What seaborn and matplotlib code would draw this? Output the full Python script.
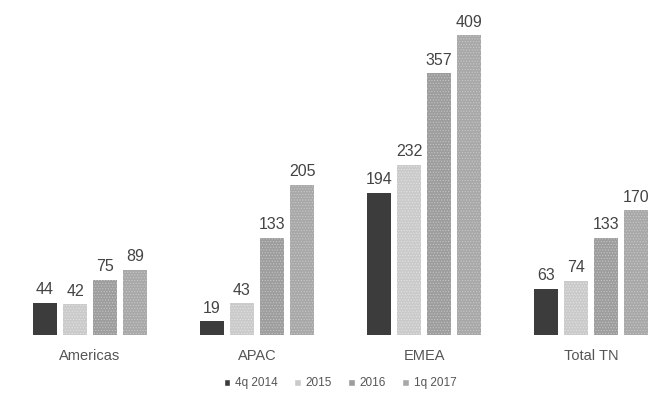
import matplotlib
matplotlib.use("Agg")
import matplotlib.pyplot as plt
import seaborn as sns
import pandas as pd

regions = ["Americas", "APAC", "EMEA", "Total TN"]
periods = ["4q 2014", "2015", "2016", "1q 2017"]
v_4q2014 = [44, 19, 194, 63]
v_2015 = [42, 43, 232, 74]
v_2016 = [75, 133, 357, 133]
v_1q2017 = [89, 205, 409, 170]

rows = []
for period, vals in zip(periods, [v_4q2014, v_2015, v_2016, v_1q2017]):
    for region, v in zip(regions, vals):
        rows.append({"region": region, "period": period, "value": v})
df = pd.DataFrame(rows)

palette = {"4q 2014": "#3c3c3c", "2015": "#cacaca", "2016": "#9d9d9d", "1q 2017": "#a8a8a8"}
hatches = {"4q 2014": "", "2015": "......", "2016": "......", "1q 2017": "......"}
hatch_edges = {"4q 2014": "#3c3c3c", "2015": "#e2e2e2", "2016": "#c4c4c4", "1q 2017": "#c8c8c8"}

sns.set_theme(style="white")
plt.rcParams["font.family"] = ["Liberation Sans", "DejaVu Sans"]
plt.rcParams["hatch.linewidth"] = 0.5

fig = plt.figure(figsize=(6.63, 4.03), dpi=100)
ax = fig.add_axes([0, 68 / 403, 1, 335 / 403])

sns.barplot(data=df, x="region", y="value", hue="period", order=regions,
            hue_order=periods, palette=palette, width=0.72, gap=0.2,
            saturation=1, ax=ax, legend=True)

for container, period in zip(ax.containers, periods):
    for bar in container:
        bar.set_hatch(hatches[period])
        bar.set_edgecolor(hatch_edges[period])
        bar.set_linewidth(0)
    ax.bar_label(container, fmt="%d", padding=4, fontsize=11.5, color="#444444")

ax.set_xlim(-0.539, 3.43)
ax.set_ylim(0, 457)
ax.set_xlabel("")
ax.set_ylabel("")
ax.set_yticks([])
ax.tick_params(axis="x", length=0, pad=10, labelsize=10.5, labelcolor="#555555")
sns.despine(ax=ax, left=True, bottom=True)

leg = ax.legend(loc="upper center", bbox_to_anchor=(340 / 663, -0.095), ncol=4,
                frameon=False, fontsize=8.5, handlelength=0.55, handleheight=0.55,
                handletextpad=0.4, columnspacing=1.4, labelcolor="#555555")

fig.savefig("out.png", dpi=100, facecolor="white")
